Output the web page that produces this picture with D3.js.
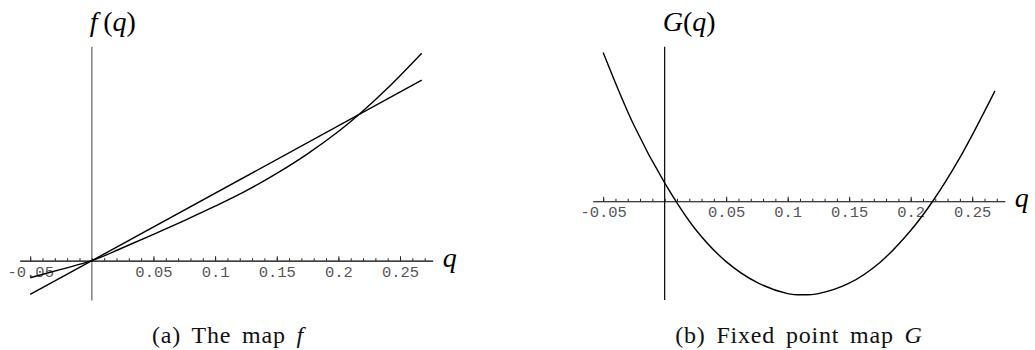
<!DOCTYPE html>
<html>
<head>
<meta charset="utf-8">
<script src="https://cdn.jsdelivr.net/npm/d3@7"></script>
<style>
  body { margin: 0; background: #fff; }
  svg { display: block; }
</style>
</head>
<body>
<script>
const W = 1035, H = 350;

// q samples
const qF = [-0.05, -0.025, 0, 0.025, 0.05, 0.075, 0.1, 0.125, 0.15, 0.175, 0.2, 0.2167, 0.24, 0.2676];
const fVals = [-0.0252, -0.0128, 0, 0.0192, 0.0390, 0.0595, 0.0808, 0.1035, 0.1295, 0.1585, 0.1915, 0.2167, 0.2560, 0.3077];
const qLine = [-0.05, 0.2676];
const lineVals = [-0.05, 0.2676];

const qG = [-0.05, -0.025, 0, 0.025, 0.05, 0.075, 0.1, 0.1127, 0.125, 0.15, 0.175, 0.2, 0.2179, 0.24, 0.2685];
const gVals = [0.0372, 0.0190, 0.0046, -0.0070, -0.0151, -0.0203, -0.0231, -0.0234, -0.0231, -0.0205, -0.0153, -0.0073, 0, 0.0109, 0.0276];

const majorTicks = [-0.05, 0.05, 0.1, 0.15, 0.2, 0.25];
const majorLabels = ['-0.05', '0.05', '0.1', '0.15', '0.2', '0.25'];
const minorTicks = d3.range(-5, 28).map(i => i / 100);

const svg = d3.select('body').append('svg')
  .attr('width', W)
  .attr('height', H);

function panel(opt) {
  const x = d3.scaleLinear().domain([-0.0585, 0.2765]).range(opt.xr);
  const y = d3.scaleLinear().domain(opt.yd).range([opt.yBottom, 46.7]);
  const g = svg.append('g');

  // vertical axis
  g.append('line')
    .attr('x1', x(0)).attr('x2', x(0))
    .attr('y1', y.range()[0]).attr('y2', y.range()[1])
    .attr('stroke', opt.vColor)
    .attr('stroke-width', opt.vWidth);

  // minor ticks
  g.append('g')
    .attr('transform', `translate(0,${y(0)})`)
    .call(d3.axisBottom(x).tickValues(minorTicks).tickSizeInner(-2.5).tickSizeOuter(0).tickFormat(''))
    .call(s => s.selectAll('line').attr('stroke', '#222'))
    .call(s => s.select('.domain').remove());

  // major ticks + labels + axis line
  g.append('g')
    .attr('transform', `translate(0,${y(0)})`)
    .call(d3.axisBottom(x).tickValues(majorTicks).tickSizeInner(-4.5).tickSizeOuter(0).tickPadding(5)
      .tickFormat((d, i) => majorLabels[i]))
    .call(s => s.select('.domain').attr('stroke', '#000').attr('stroke-width', 1.2))
    .call(s => s.selectAll('line').attr('stroke', '#222'))
    .call(s => s.selectAll('text')
      .attr('font-family', '"Liberation Mono", "DejaVu Sans Mono", monospace')
      .attr('font-size', 15.5)
      .attr('fill', '#555'));

  const line = d3.line()
    .x(d => x(d[0]))
    .y(d => y(d[1]))
    .curve(d3.curveCatmullRom);

  opt.series.forEach(s => {
    g.append('path')
      .datum(d3.zip(s.q, s.v))
      .attr('d', line)
      .attr('fill', 'none')
      .attr('stroke', '#000')
      .attr('stroke-width', 1.4);
  });

  // q label
  g.append('text')
    .attr('x', x.range()[1] + 10)
    .attr('y', y(0) + 6)
    .attr('font-family', '"Liberation Serif", serif')
    .attr('font-style', 'italic')
    .attr('font-size', 28)
    .text('q');

  // y label
  const yl = g.append('text')
    .attr('x', x(0) - 2)
    .attr('y', 31)
    .attr('font-family', '"Liberation Serif", serif')
    .attr('font-size', 28);
  yl.append('tspan').attr('font-style', 'italic').text(opt.fn);
  yl.append('tspan').text(opt.gap + '(');
  yl.append('tspan').attr('font-style', 'italic').text('q');
  yl.append('tspan').text(')');

  // caption
  const cap = g.append('text')
    .attr('x', opt.capX)
    .attr('y', 343)
    .attr('text-anchor', 'middle')
    .attr('font-family', '"Liberation Serif", serif')
    .attr('font-size', 24)
    .attr('letter-spacing', 0.8)
    .attr('word-spacing', 4)
    .attr('fill', '#111');
  cap.append('tspan').text(opt.cap);
  cap.append('tspan').attr('font-style', 'italic').text(opt.capSym);
}

panel({
  xr: [19.7, 432.7], yd: [-0.059, 0.3173], yBottom: 300.5,
  vColor: '#888', vWidth: 1.6,
  series: [{ q: qLine, v: lineVals }, { q: qF, v: fVals }],
  fn: 'f', gap: '\u2009', cap: '(a)  The map ', capSym: 'f', capX: 228
});

panel({
  xr: [592.7, 1004.8], yd: [-0.0247, 0.03865], yBottom: 300,
  vColor: '#000', vWidth: 1.2,
  series: [{ q: qG, v: gVals }],
  fn: 'G', gap: '', cap: '(b)  Fixed point map ', capSym: 'G', capX: 799
});
</script>
</body>
</html>
